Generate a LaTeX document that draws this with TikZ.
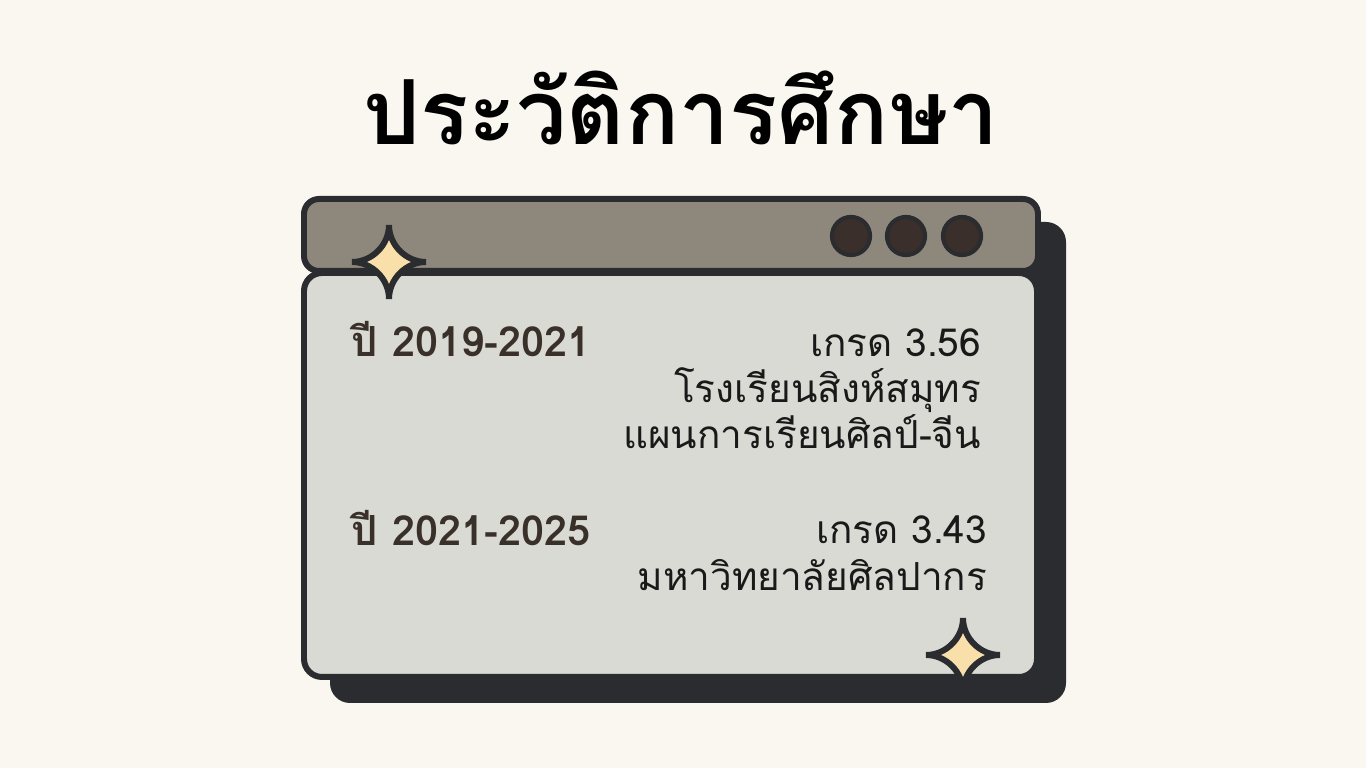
\documentclass[tikz,border=0pt]{standalone}
\usepackage{fontspec}
\newfontfamily\thaifont[Script=Thai]{Loma}
\definecolor{cream}{HTML}{FAF7F0}
\definecolor{ink}{HTML}{2B2C30}
\definecolor{bar}{HTML}{8E877B}
\definecolor{pane}{HTML}{D9DAD3}
\definecolor{knob}{HTML}{3A2F2A}
\definecolor{star}{HTML}{F9DFAA}
\definecolor{brown}{HTML}{3A302A}

\begin{document}
\begin{tikzpicture} [x=0.01cm, y=-0.01cm, line width=1.7pt,
    head/.style={font=\thaifont\bfseries\fontsize{25.5}{30}\selectfont, text=black, anchor=base},
    year/.style={font=\thaifont\bfseries\fontsize{11.8}{14}\selectfont, text=brown, anchor=base west, inner sep=0},
    line/.style={font=\thaifont\fontsize{11}{13}\selectfont, text=black!90, anchor=base east, inner sep=0}]
  \fill[cream] (0,0) rectangle (1366,768);
  % window
  \fill[ink, rounded corners=0.2cm] (330,222) rectangle (1066,703);
  \filldraw[draw=ink, fill=pane, rounded corners=0.18cm] (304,273) rectangle (1037,677);
  \filldraw[draw=ink, fill=bar, rounded corners=0.15cm] (304,199) rectangle (1038,271);
  \foreach \cx in {851,906,962}
    \filldraw[draw=ink, fill=knob, line width=1.2pt] (\cx,236) circle (19);
  % sparkles
  \foreach \sx/\sy in {389/262, 963/655}
    \filldraw[draw=ink, fill=star, line join=bevel]
      (\sx,\sy-37) .. controls (\sx,\sy-17) and (\sx+17,\sy) .. (\sx+37,\sy)
      .. controls (\sx+17,\sy) and (\sx,\sy+17) .. (\sx,\sy+37)
      .. controls (\sx,\sy+17) and (\sx-17,\sy) .. (\sx-37,\sy)
      .. controls (\sx-17,\sy) and (\sx,\sy-17) .. cycle;
  % texts
  \path (681,145) node[head](T) {ประวัติการศึกษา}
        (349,357) node[year](Y1) {ปี 2019-2021}
        (984,357) node[line](G1) {เกรด 3.56}
        (984,403) node[line](S1) {โรงเรียนสิงห์สมุทร}
        (984,449) node[line](P1) {แผนการเรียนศิลป์-จีน}
        (349,546) node[year](Y2) {ปี 2021-2025}
        (990,544) node[line](G2) {เกรด 3.43}
        (990,591) node[line](S2) {มหาวิทยาลัยศิลปากร};
\end{tikzpicture}
\end{document}
